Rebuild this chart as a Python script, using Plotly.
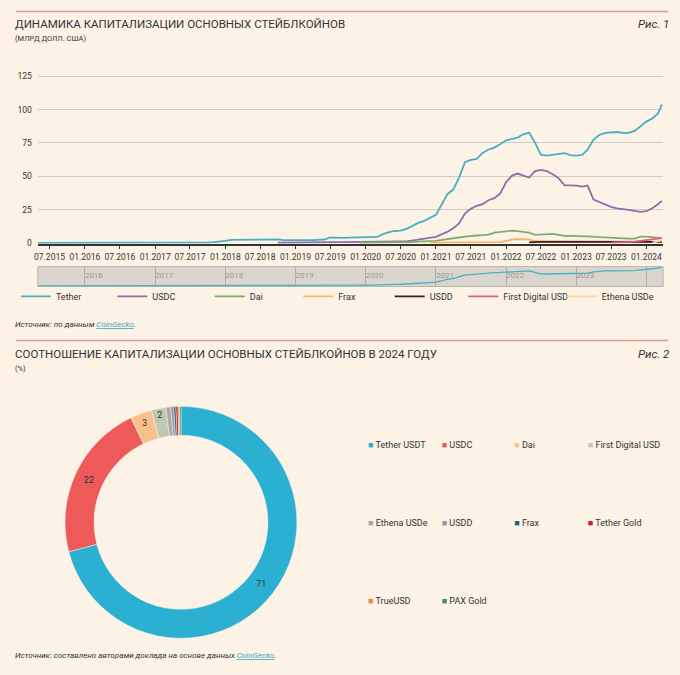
import plotly.graph_objects as go
import pandas as pd

W, H = 680, 675
BG = "#FCF3E6"
FONT = "Roboto, 'Open Sans', sans-serif"
TXT = "#333333"


def fx(px):
    return px / W


def fy(py):
    return 1 - py / H


# ---------------- data: chart 1 (bn USD, monthly) ----------------
dates = pd.date_range("2015-05-01", "2024-03-01", freq="MS").strftime("%Y-%m-%d").tolist() + ["2024-03-22"]

tether = [
    0.0, 0.0, 0.0, 0.0, 0.0, 0.0, 0.0, 0.0,
    0.01, 0.01, 0.01, 0.01, 0.01, 0.01, 0.01, 0.01, 0.01, 0.01, 0.01, 0.01,
    0.01, 0.01, 0.01, 0.05, 0.06, 0.1, 0.1, 0.15, 0.2, 0.4, 0.6, 0.8,
    1.4, 2.2, 2.3, 2.3, 2.5, 2.6, 2.8, 2.8, 2.7, 2.6, 2.0, 1.9,
    2.0, 2.0, 2.0, 2.1, 2.3, 2.5, 4.0, 3.6, 3.7, 3.9, 4.0, 4.0,
    4.1, 4.2, 4.4, 6.5, 8.0, 8.9, 9.2, 10.5, 13.0, 15.0, 16.5, 18.5,
    21.0, 29.0, 36.5, 40.0, 49.0, 60.5, 62.3, 63.0, 67.5, 70.0, 71.5, 74.0,
    77.0, 78.0, 79.0, 81.5, 82.8, 75.0, 66.2, 65.5, 66.0, 66.7, 67.3, 65.8,
    65.5, 66.0, 70.0, 77.5, 81.0, 82.5, 83.0, 83.2, 82.5, 82.5, 84.0, 87.8,
    91.0, 93.3, 97.0, 104.0,
]

usdc = [
    None, None, None, None, None, None, None, None,
    None, None, None, None, None, None, None, None, None, None, None, None,
    None, None, None, None, None, None, None, None, None, None, None, None,
    None, None, None, None, None, None, None, None, None, 0.1, 0.2, 0.3,
    0.3, 0.3, 0.3, 0.3, 0.4, 0.4, 0.5, 0.5, 0.5, 0.5, 0.5, 0.5,
    0.5, 0.6, 0.7, 0.8, 0.8, 1.0, 1.0, 1.1, 1.8, 2.5, 2.8, 3.5,
    4.5, 6.5, 8.2, 11.0, 14.5, 22.0, 25.5, 27.8, 29.0, 32.0, 33.5, 37.0,
    45.5, 50.5, 52.0, 50.5, 49.0, 53.8, 54.8, 53.8, 51.5, 48.5, 43.2, 43.2,
    43.0, 42.2, 43.0, 32.5, 30.5, 29.0, 27.0, 25.8, 25.4, 24.8, 24.0, 23.3,
    23.8, 26.0, 29.0, 31.5,
]

dai = [
    None, None, None, None, None, None, None, None,
    None, None, None, None, None, None, None, None, None, None, None, None,
    None, None, None, None, None, None, None, None, None, None, None, None,
    None, None, None, None, None, None, None, None, None, None, None, None,
    None, None, None, None, None, None, None, None, None, None, None, 0.1,
    0.1, 0.1, 0.1, 0.1, 0.1, 0.1, 0.2, 0.4, 0.5, 0.9, 1.0, 1.2,
    1.5, 2.3, 3.0, 3.4, 4.0, 4.6, 5.2, 5.5, 5.8, 6.2, 7.6, 8.2,
    8.8, 9.2, 8.8, 8.2, 7.7, 6.0, 6.2, 6.5, 6.7, 6.0, 5.2, 5.2,
    5.2, 5.2, 5.2, 4.7, 4.3, 4.0, 3.8, 3.6, 3.4, 3.1, 3.2, 4.7,
    4.6, 4.3, 4.0, 3.6,
]

frax = [
    None, None, None, None, None, None, None, None,
    None, None, None, None, None, None, None, None, None, None, None, None,
    None, None, None, None, None, None, None, None, None, None, None, None,
    None, None, None, None, None, None, None, None, None, None, None, None,
    None, None, None, None, None, None, None, None, None, None, None, None,
    None, None, None, None, None, None, None, None, None, None, None, 0.1,
    0.1, 0.1, 0.15, 0.15, 0.15, 0.2, 0.2, 0.25, 0.3, 0.3, 0.4, 0.5,
    1.5, 2.5, 2.7, 2.8, 2.6, 1.2, 1.1, 1.1, 1.0, 1.0, 1.0, 1.0,
    1.0, 1.0, 1.0, 1.0, 1.0, 0.95, 0.9, 0.8, 0.8, 0.7, 0.7, 0.65,
    0.65, 0.65, 0.65, 0.65,
]

usdd = [
    None, None, None, None, None, None, None, None,
    None, None, None, None, None, None, None, None, None, None, None, None,
    None, None, None, None, None, None, None, None, None, None, None, None,
    None, None, None, None, None, None, None, None, None, None, None, None,
    None, None, None, None, None, None, None, None, None, None, None, None,
    None, None, None, None, None, None, None, None, None, None, None, None,
    None, None, None, None, None, None, None, None, None, None, None, None,
    None, None, None, None, 0.3, 0.7, 0.72, 0.75, 0.73, 0.72, 0.72, 0.73,
    0.72, 0.72, 0.72, 0.72, 0.73, 0.73, 0.72, 0.72, 0.72, 0.72, 0.73, 0.74,
    0.75, 0.75, 0.76, 0.76,
]

fdusd = [
    None, None, None, None, None, None, None, None,
    None, None, None, None, None, None, None, None, None, None, None, None,
    None, None, None, None, None, None, None, None, None, None, None, None,
    None, None, None, None, None, None, None, None, None, None, None, None,
    None, None, None, None, None, None, None, None, None, None, None, None,
    None, None, None, None, None, None, None, None, None, None, None, None,
    None, None, None, None, None, None, None, None, None, None, None, None,
    None, None, None, None, None, None, None, None, None, None, None, None,
    None, None, None, None, None, None, 0.2, 0.3, 0.4, 0.6, 0.9, 1.5,
    2.2, 2.8, 3.2, 3.6,
]

usde = [
    None, None, None, None, None, None, None, None,
    None, None, None, None, None, None, None, None, None, None, None, None,
    None, None, None, None, None, None, None, None, None, None, None, None,
    None, None, None, None, None, None, None, None, None, None, None, None,
    None, None, None, None, None, None, None, None, None, None, None, None,
    None, None, None, None, None, None, None, None, None, None, None, None,
    None, None, None, None, None, None, None, None, None, None, None, None,
    None, None, None, None, None, None, None, None, None, None, None, None,
    None, None, None, None, None, None, None, None, None, None, None, None,
    None, 0.2, 0.9, 1.8,
]

line_names = ["Tether", "USDC", "Dai", "Frax", "USDD", "First Digital USD", "Ethena USDe"]
line_values = [tether, usdc, dai, frax, usdd, fdusd, usde]
line_colors = ["#47AFC1", "#8B6FA6", "#7FAC6C", "#F5B65C", "#3A1E2C", "#E25C72", "#F6D59E"]
line_legend_text_x = [55, 152, 250, 339, 431, 505, 604]   # px where legend texts begin

y_ticks = [0, 25, 50, 75, 100, 125]

# ---------------- data: chart 2 (% share, 2024) ----------------
pie_labels = ["Tether USDT", "USDC", "Dai", "First Digital USD", "Ethena USDe",
              "USDD", "Frax", "Tether Gold", "TrueUSD", "PAX Gold"]
pie_values = [71, 22, 3, 2, 0.7, 0.4, 0.3, 0.3, 0.2, 0.2]
pie_colors = ["#2BB0D2", "#EE5A5A", "#F7C08C", "#BFC8B0", "#AAAAAA",
              "#9A93A8", "#2B5F7A", "#C0203A", "#E8863A", "#4E8A55"]
pie_text = [f"{v:.0f}" if v >= 2 else "" for v in pie_values]
pie_legend_cols_x = [369, 443, 516, 590]   # px where legend squares begin (4 columns)
pie_legend_rows_y = [446, 524, 602]

# ---------------- figure ----------------
fig = go.Figure()

legend_common = dict(bgcolor="rgba(0,0,0,0)", borderwidth=0,
                     font=dict(family=FONT, size=9, color=TXT),
                     xanchor="left", itemclick=False, itemdoubleclick=False)
layout_legends = {}

for i, (name, vals, color) in enumerate(zip(line_names, line_values, line_colors)):
    lg = "legend" if i == 0 else f"legend{i + 1}"
    fig.add_trace(go.Scatter(
        x=dates, y=vals, name=name, mode="lines",
        line=dict(color=color, width=1.8),
        xaxis="x", yaxis="y", legend=lg,
    ))
    layout_legends[lg] = dict(legend_common, orientation="h", yanchor="middle",
                              x=fx(line_legend_text_x[i] - 43), y=fy(297))

# navigator (mini Tether line)
fig.add_trace(go.Scatter(
    x=dates, y=tether, mode="lines", line=dict(color=line_colors[0], width=1.3),
    xaxis="x2", yaxis="y2", showlegend=False, hoverinfo="skip",
))

# donut
fig.add_trace(go.Pie(
    labels=pie_labels, values=pie_values, hole=0.75, sort=False,
    direction="clockwise", rotation=0,
    marker=dict(colors=pie_colors, line=dict(color=BG, width=0.5)),
    text=pie_text, textinfo="text", textposition="inside",
    insidetextorientation="horizontal",
    insidetextfont=dict(size=9, color=TXT, family=FONT),
    domain=dict(x=[fx(178 - 117), fx(178 + 117)], y=[fy(525 + 117), fy(525 - 117)]),
    showlegend=False,
))

# donut legend: 4 columns, items in row-major order; square key drawn in the entry text
n_cols = len(pie_legend_cols_x)
for c in range(n_cols):
    lg = f"legend{len(line_names) + 1 + c}"
    for k in range(c, len(pie_labels), n_cols):
        fig.add_trace(go.Scatter(
            x=[None], y=[None], mode="markers",
            name=f"<span style='color:{pie_colors[k]}'>■</span> {pie_labels[k]}",
            marker=dict(symbol="square", size=1, color="rgba(0,0,0,0)",
                        line=dict(width=0, color="rgba(0,0,0,0)")),
            xaxis="x", yaxis="y", legend=lg, legendgroup=f"g{k}",
            showlegend=True, hoverinfo="skip",
        ))
    layout_legends[lg] = dict(legend_common, orientation="v", yanchor="top",
                              traceorder="grouped", tracegroupgap=59,
                              x=fx(pie_legend_cols_x[c] - 43), y=fy(pie_legend_rows_y[0] - 14.5))

fig.update_layout(
    width=W, height=H,
    margin=dict(l=0, r=0, t=0, b=0),
    paper_bgcolor=BG, plot_bgcolor="rgba(0,0,0,0)",
    font=dict(family=FONT, color=TXT),
    showlegend=True,
    **layout_legends,
    xaxis=dict(
        domain=[fx(34), fx(663)], anchor="y",
        range=["2015-05-01", "2024-03-28"], type="date",
        tick0="2015-07-01", dtick="M6", tickformat="%m.%Y", tickangle=0,
        ticks="outside", ticklen=4, tickcolor="#333333",
        showline=True, linecolor="#333333", linewidth=1.5,
        showgrid=False, zeroline=False,
        tickfont=dict(family=FONT, size=8.5, color=TXT),
        fixedrange=True,
    ),
    yaxis=dict(
        domain=[fy(243.8), fy(72.3)], anchor="x",
        range=[-0.6, 127], tickvals=y_ticks,
        showgrid=True, gridcolor="#D3CCC1", gridwidth=1,
        zeroline=False, showline=False, ticks="",
        ticklabelstandoff=5,
        tickfont=dict(family=FONT, size=8.5, color=TXT),
        fixedrange=True,
    ),
    xaxis2=dict(
        domain=[fx(34), fx(663)], anchor="y2",
        range=["2015-05-01", "2024-03-28"], type="date",
        tick0="2016-01-01", dtick="M12", tickformat="%Y", tickangle=0,
        side="top", ticklabelposition="inside right", ticks="",
        showgrid=True, gridcolor="#B3AEA6", gridwidth=1,
        showline=False, zeroline=False,
        tickfont=dict(family=FONT, size=8, color="#9C968E"),
        fixedrange=True,
    ),
    yaxis2=dict(
        domain=[fy(287), fy(267)], anchor="x2",
        range=[-3, 106], visible=False, fixedrange=True,
    ),
)

shapes = [
    dict(type="line", xref="paper", yref="paper", x0=fx(12), x1=fx(668),
         y0=fy(9.5), y1=fy(9.5), line=dict(color="#DE9A98", width=1.5)),
    dict(type="line", xref="paper", yref="paper", x0=fx(12), x1=fx(668),
         y0=fy(341.5), y1=fy(341.5), line=dict(color="#DE9A98", width=1.5)),
    dict(type="rect", xref="x2 domain", yref="y2 domain", x0=0, x1=1, y0=0, y1=1,
         fillcolor="#DAD6CF", line=dict(color="#B8B3AB", width=1), layer="below"),
]
fig.update_layout(shapes=shapes)

link = "<span style='color:#3AA3B8'><u>CoinGecko</u></span>"
annotations = [
    dict(text="ДИНАМИКА КАПИТАЛИЗАЦИИ ОСНОВНЫХ СТЕЙБЛКОЙНОВ", x=fx(9), y=fy(22),
         font=dict(size=11.5, color=TXT)),
    dict(text="(МЛРД ДОЛЛ. США)", x=fx(9), y=fy(37), font=dict(size=7.5, color=TXT)),
    dict(text="<i>Рис. 1</i>", x=fx(671), y=fy(22), xanchor="right", font=dict(size=11.5, color=TXT)),
    dict(text="<i>Источник: по данным " + link + ".</i>", x=fx(9), y=fy(325),
         font=dict(size=8, color=TXT)),
    dict(text="СООТНОШЕНИЕ КАПИТАЛИЗАЦИИ ОСНОВНЫХ СТЕЙБЛКОЙНОВ В 2024 ГОДУ", x=fx(9), y=fy(355),
         font=dict(size=11.5, color=TXT)),
    dict(text="(%)", x=fx(9), y=fy(370), font=dict(size=7.5, color=TXT)),
    dict(text="<i>Рис. 2</i>", x=fx(671), y=fy(355), xanchor="right", font=dict(size=11.5, color=TXT)),
    dict(text="<i>Источник: составлено авторами доклада на основе данных " + link + ".</i>",
         x=fx(9), y=fy(659), font=dict(size=8, color=TXT)),
]
for a in annotations:
    a.setdefault("xanchor", "left")
    a.update(xref="paper", yref="paper", yanchor="middle", showarrow=False)
    a["font"]["family"] = FONT
fig.update_layout(annotations=annotations)

fig.write_html("out.html", config={"displayModeBar": False},
               post_script="document.body.style.margin='0';")
